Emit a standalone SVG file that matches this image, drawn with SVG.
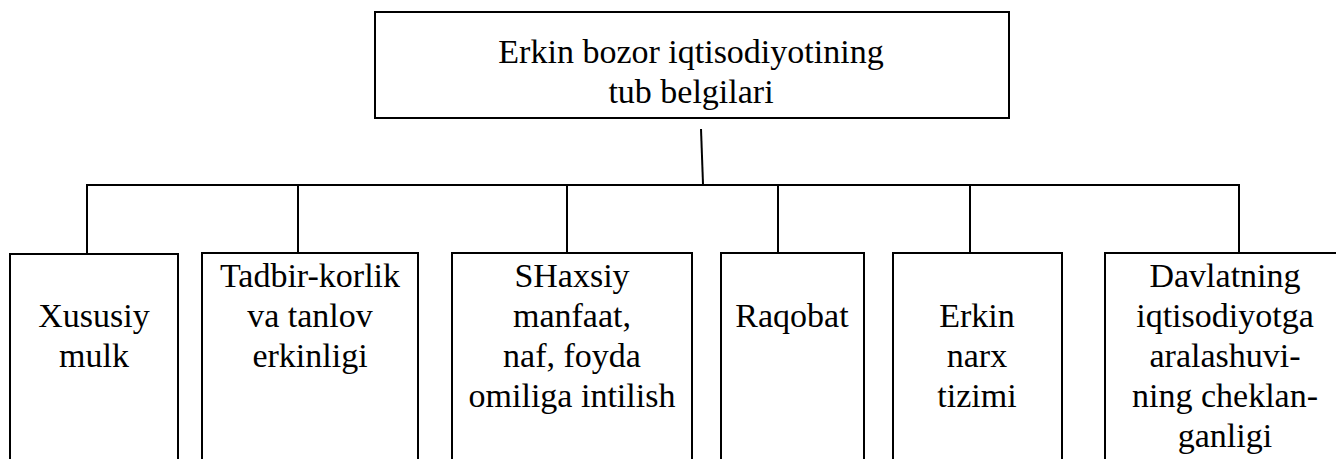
<svg xmlns="http://www.w3.org/2000/svg" width="1336" height="459" viewBox="0 0 1336 459" font-family="'Liberation Serif', 'Times New Roman', Tinos, 'DejaVu Serif', serif" font-size="34">
<style>
.box{fill:#fff;stroke:#000;stroke-width:2}
.ln{stroke:#000;stroke-width:2;fill:none}
.t{fill:#000;text-anchor:middle}
</style>
<rect width="1336" height="459" fill="#fff"/>
<g id="connectors">
<line class="ln" x1="701" y1="129" x2="703" y2="184"/>
<line class="ln" x1="86" y1="185" x2="1240" y2="185"/>
<line class="ln" x1="87" y1="185" x2="87" y2="258"/>
<line class="ln" x1="298" y1="185" x2="298" y2="257"/>
<line class="ln" x1="567" y1="185" x2="567" y2="257"/>
<line class="ln" x1="778" y1="185" x2="778" y2="258"/>
<line class="ln" x1="970" y1="185" x2="970" y2="258"/>
<line class="ln" x1="1239" y1="185" x2="1239" y2="258"/>
</g>
<g id="root">
<rect class="box" x="375" y="12" width="634" height="106"/>
<text class="t" x="691" y="63">Erkin bozor iqtisodiyotining</text>
<text class="t" x="691" y="103">tub belgilari</text>
</g>
<g id="n1">
<rect class="box" x="10" y="254" width="168" height="220"/>
<text class="t" x="94" y="327">Xususiy</text>
<text class="t" x="94" y="367">mulk</text>
</g>
<g id="n2">
<rect class="box" x="202" y="253" width="216" height="220"/>
<text class="t" x="310" y="287">Tadbir-korlik</text>
<text class="t" x="310" y="327">va tanlov</text>
<text class="t" x="310" y="367">erkinligi</text>
</g>
<g id="n3">
<rect class="box" x="452" y="253" width="240" height="220"/>
<text class="t" x="572" y="287">SHaxsiy</text>
<text class="t" x="572" y="327">manfaat,</text>
<text class="t" x="572" y="367">naf, foyda</text>
<text class="t" x="572" y="407">omiliga intilish</text>
</g>
<g id="n4">
<rect class="box" x="721" y="253" width="143" height="220"/>
<text class="t" x="792" y="327">Raqobat</text>
</g>
<g id="n5">
<rect class="box" x="893" y="253" width="169" height="220"/>
<text class="t" x="977" y="327">Erkin</text>
<text class="t" x="977" y="367">narx</text>
<text class="t" x="977" y="407">tizimi</text>
</g>
<g id="n6">
<rect class="box" x="1105" y="253" width="240" height="220"/>
<text class="t" x="1225" y="287">Davlatning</text>
<text class="t" x="1225" y="327">iqtisodiyotga</text>
<text class="t" x="1225" y="367">aralashuvi-</text>
<text class="t" x="1225" y="407">ning cheklan-</text>
<text class="t" x="1225" y="447">ganligi</text>
</g>
</svg>
